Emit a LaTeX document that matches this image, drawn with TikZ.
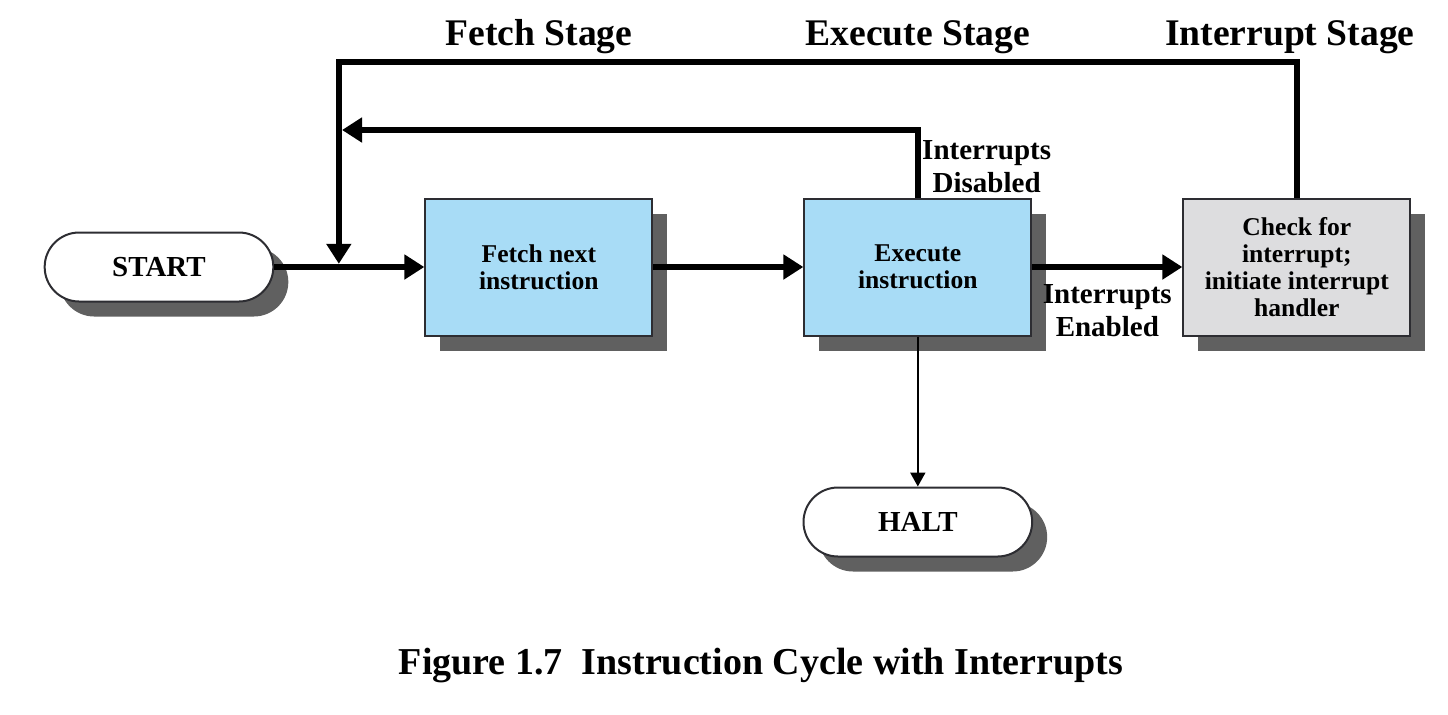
\documentclass[tikz,border=0pt]{standalone}
\usepackage{fontspec}
\setmainfont{Liberation Serif}
\usetikzlibrary{positioning,arrows.meta}
\usetikzlibrary{calc,shapes.misc,shadows}
\definecolor{stepblue}{RGB}{168,220,246}
\definecolor{checkgray}{RGB}{221,221,223}
\definecolor{shadowgray}{RGB}{96,96,96}
\definecolor{edgegray}{RGB}{45,45,50}
\tikzset{
    >={Triangle[length=10pt,width=12pt]},
    boxshadow/.style={
        drop shadow={shadow xshift=7.5pt, shadow yshift=-7.5pt,
                     fill=shadowgray, opacity=1}
    },
    stagebox/.style={
        rectangle,
        draw=edgegray,
        line width=1pt,
        fill=stepblue,
        boxshadow,
        align=center,
        minimum width=113.5pt,
        minimum height=68.5pt,
        font=\fontsize{12.8}{13.6}\selectfont\bfseries
    },
    terminal/.style={
        rounded rectangle,
        draw=edgegray,
        line width=1pt,
        fill=white,
        boxshadow,
        minimum width=121pt,
        minimum height=34.5pt,
        font=\fontsize{14.5}{16.5}\selectfont\bfseries
    },
    flow/.style={line width=3.2pt, ->},
    label/.style={
        align=center,
        inner sep=2pt,
        font=\fontsize{14.5}{16.5}\selectfont\bfseries
    },
    stagename/.style={
        anchor=base,
        font=\fontsize{18.8}{22}\selectfont\bfseries
    }
}

\begin{document}
\begin{tikzpicture}[
    x=0.5pt, y=-0.5pt,
    node distance=75pt
]
\useasboundingbox (0,0) rectangle (1448,714);

% Cycle
\node[terminal] (start) at (159,267) {START};
\node[stagebox, right=of start] (fetch) {Fetch next\\instruction};
\node[stagebox, right=of fetch] (exec) {Execute\\instruction};
\node[stagebox, fill=checkgray, right=of exec] (check)
{
Check for\\
interrupt;\\
initiate interrupt\\
handler
};
\node[terminal, below=of exec] (halt) {HALT};

% Stage headings
\coordinate (stageline) at (0,45);
\node[stagename] (fetchstage) at (fetch |- stageline) {Fetch Stage};
\node[stagename] (execstage) at (exec |- stageline) {Execute Stage};
\node[stagename, xshift=-3.5pt] (intstage) at (check |- stageline) {Interrupt Stage};

% Loop points
\coordinate (join) at ($(start.east)!0.43!(fetch.west)$);
\coordinate (outerline) at (0,62);
\coordinate (innerline) at (0,130);

% Main path
\draw[flow] (start.east) -- (fetch.west);
\draw[flow] (fetch.east) -- (exec.west);
\draw[flow] (exec.east) -- node[label, below=5pt] (enabled) {Interrupts\\Enabled} (check.west);
\draw[line width=1pt, -{Triangle[length=7pt,width=7.5pt]}] (exec.south) -- (halt.north);

% Back to fetch
\draw[flow, shorten >=1.6pt] (check.north) |- (join |- outerline) -- (join);
\draw[flow, shorten >=1.6pt] (exec.north) |- (join |- innerline);
\node[label, anchor=south west] (disabled) at (exec.north) {Interrupts\\Disabled};

% Caption
\node[anchor=base, font=\fontsize{19}{22}\selectfont\bfseries] (caption) at (761,674)
{Figure 1.7\enspace Instruction Cycle with Interrupts};

\end{tikzpicture}
\end{document}
